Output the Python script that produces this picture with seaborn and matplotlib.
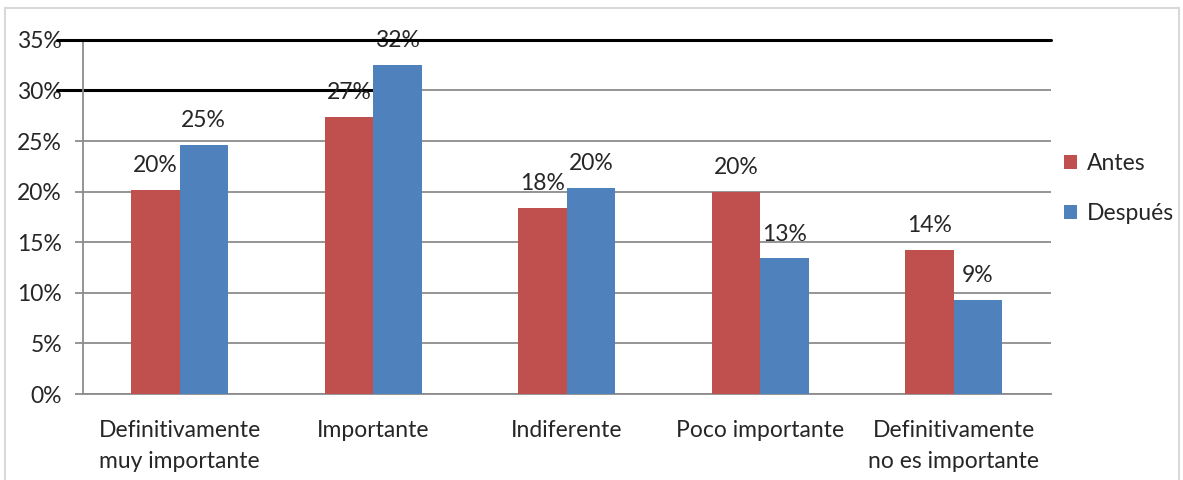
import pandas as pd
import matplotlib.pyplot as plt
import matplotlib.transforms as mtransforms
from matplotlib.patches import Rectangle
import seaborn as sns

# Data
categorias = ["Definitivamente\nmuy importante", "Importante", "Indiferente",
              "Poco importante", "Definitivamente\nno es importante"]
antes = [20.2, 27.4, 18.4, 20.0, 14.2]
despues = [24.6, 32.5, 20.4, 13.4, 9.3]
series = ["Antes", "Después"]
colores = ["#C0504D", "#4F81BD"]

df = pd.DataFrame({
    "Categoria": categorias * 2,
    "Serie": [series[0]] * len(categorias) + [series[1]] * len(categorias),
    "Valor": antes + despues,
})

sns.set_style("white")
plt.rcParams["font.family"] = ["Lato", "DejaVu Sans"]
fs = 16.5

fig = plt.figure(figsize=(11.83, 4.8), dpi=100)
ax = fig.add_axes([0.070, 0.179, 0.818, 0.738])

sns.barplot(data=df, x="Categoria", y="Valor", hue="Serie", palette=colores,
            width=0.5, saturation=1, ax=ax, zorder=3, linewidth=0)

ax.set_ylim(0, 35)
ax.set_xlim(-0.5, len(categorias) - 0.5)
ax.set_yticks(range(0, 36, 5))
ax.set_yticklabels([f"{v}%" for v in range(0, 36, 5)], fontsize=fs)
ax.yaxis.grid(True, color="#8c8c8c", linewidth=1.3, zorder=0)
ax.set_axisbelow(True)

# category boundary ticks
ax.set_xticks([i - 0.5 for i in range(len(categorias) + 1)], minor=True)
ax.set_xticks(range(len(categorias)))
ax.set_xticklabels(categorias, fontsize=fs, linespacing=1.55)
ax.tick_params(axis="x", which="major", length=0, pad=19)
ax.tick_params(axis="x", which="minor", length=6, color="#8c8c8c", width=1.3)
ax.tick_params(axis="y", length=6, color="#8c8c8c", width=1.3, left=True, pad=9)
ax.set_xlabel("")
ax.set_ylabel("")

for s in ["top", "right"]:
    ax.spines[s].set_visible(False)
for s in ["left", "bottom"]:
    ax.spines[s].set_color("#8c8c8c")
    ax.spines[s].set_linewidth(1.3)

for cont in ax.containers:
    ax.bar_label(cont, labels=[f"{v:.0f}%" for v in cont.datavalues],
                 fontsize=fs, padding=10)

# stray black lines from the original
trans = mtransforms.blended_transform_factory(ax.transAxes, ax.transData)
ax.plot([-0.027, 1.0], [35, 35], color="black", lw=2.2, transform=trans,
        clip_on=False, zorder=4)
x0 = ax.transData.inverted().transform(ax.transAxes.transform((-0.027, 0)))[0]
ax.plot([x0, 1.0], [30, 30], color="black", lw=2.2, clip_on=False, zorder=2)

ax.legend(loc="center left", bbox_to_anchor=(1.0, 0.58), frameon=False,
          fontsize=fs, handlelength=0.55, handleheight=0.55, labelspacing=1.25,
          handletextpad=0.45, borderaxespad=0.2)

fig.patches.append(Rectangle((0.004, -0.05), 0.993, 1.033, transform=fig.transFigure,
                             fill=False, edgecolor="#d9d9d9", linewidth=1.5))

fig.savefig("out.png", dpi=100)
